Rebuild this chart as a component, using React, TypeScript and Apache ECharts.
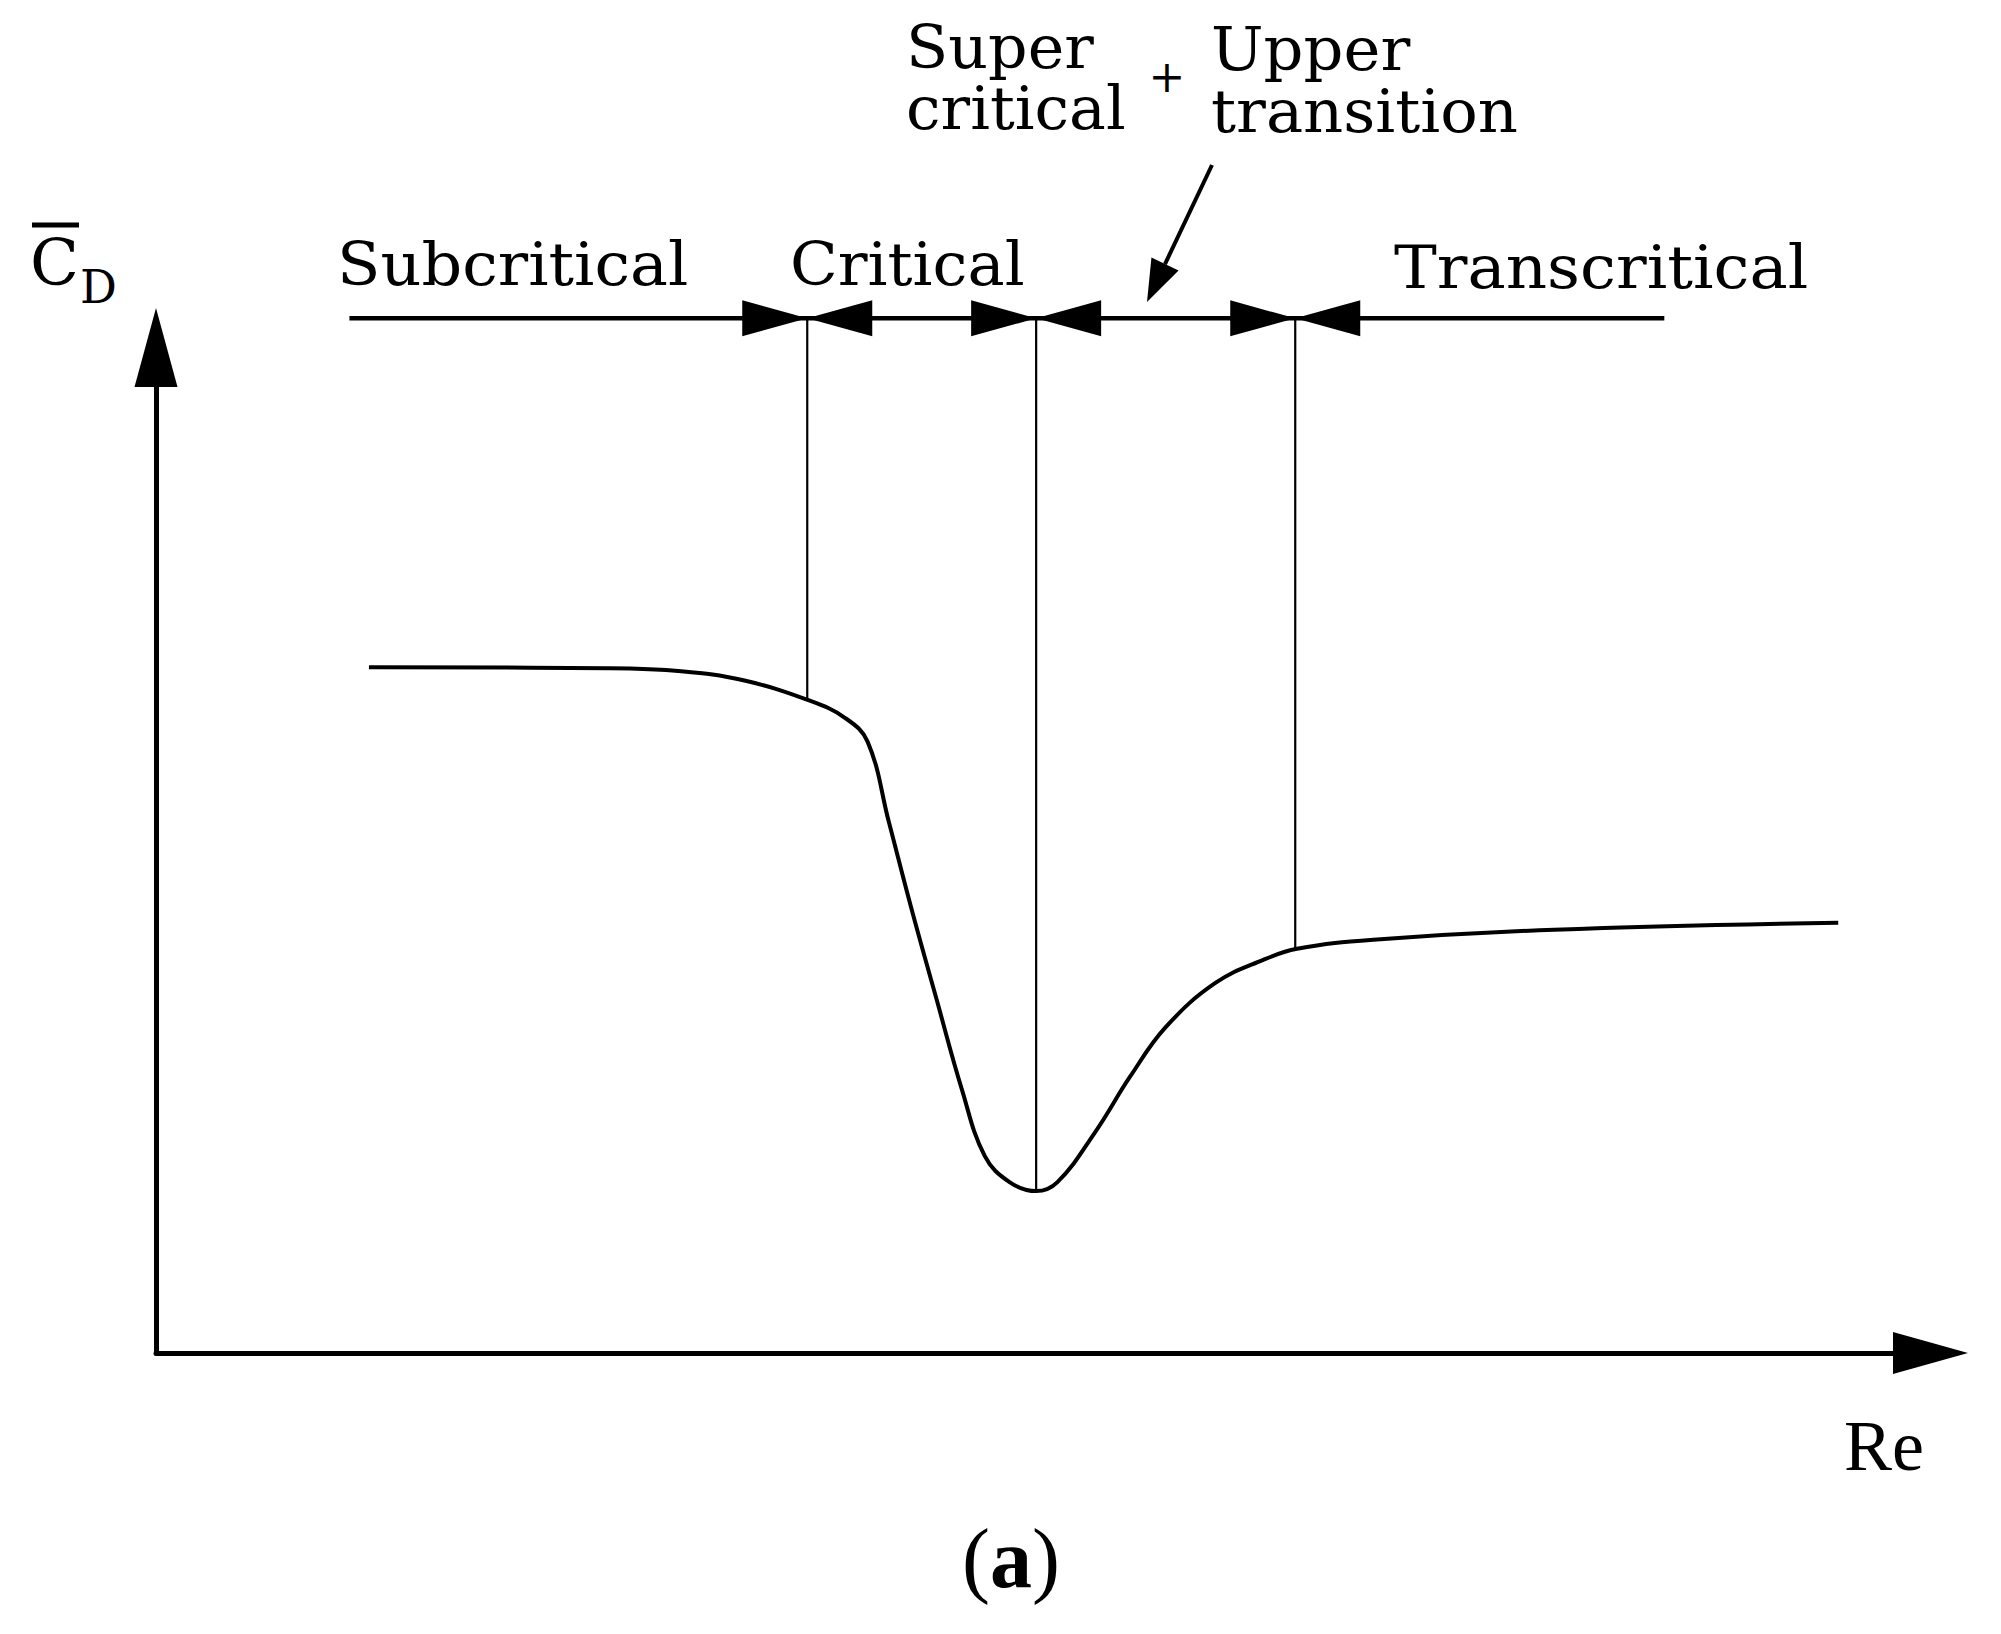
import React, { useEffect, useRef } from "react";
import * as echarts from "echarts";

// Schematic drag curve: arbitrary units (Re along x, mean C_D along y)
const curveRe = [12.0, 25.5, 29.6, 33.1, 36.8, 38.8, 40.1, 41.3, 42.6, 44.0, 45.4, 46.7, 48.1, 49.6, 50.8, 52.9, 54.9, 56.9, 59.7, 62.4, 64.3, 68.6, 78.8, 94.8];
const curveCd = [68.2, 68.1, 67.8, 66.9, 64.9, 63.2, 60.8, 52.8, 44.0, 35.1, 26.3, 19.6, 17.0, 16.1, 17.0, 21.9, 27.5, 32.4, 36.8, 39.1, 40.2, 41.1, 42.1, 42.8];

// Regime boundaries (Re) and the curve value at each boundary
const boundaryRe = [36.7, 49.6, 64.2];
const boundaryCd = [64.9, 16.1, 40.2];

// Horizontal regime line
const regimeLevel = 102.9;
const regimeStart = 10.9;
const regimeEnd = 85.0;

const regimeLabels = ["Subcritical", "Critical", "Transcritical"];
const upperLabelLeft = ["Super", "critical"];
const upperLabelRight = ["Upper", "transition"];

const SERIF = "DejaVu Serif";
const TIMES = "Liberation Serif";

export default function App() {
  const ref = useRef<HTMLDivElement>(null);

  useEffect(() => {
    if (!ref.current) return;
    const chart = echarts.init(ref.current, null, { renderer: "svg" });

    const curveData = curveRe.map((x, i) => [x, curveCd[i]]);
    const boundaryData = boundaryRe.map((x, i) => [x, regimeLevel, boundaryCd[i]]);

    const txt = (
      text: string,
      x: number,
      baseline: number,
      size: number,
      family = SERIF,
      align = "left",
      sx = 1
    ) => ({
      type: "text",
      x,
      y: baseline - 0.345 * size,
      scaleX: sx,
      silent: true,
      style: {
        text,
        fill: "#000",
        fontFamily: family,
        fontSize: size,
        textAlign: align,
        textVerticalAlign: "middle",
      },
    });

    // two-line label as one text block (top-aligned)
    const txt2 = (lines: string[], x: number, top: number, size: number, lh: number, sx = 1) => ({
      type: "text",
      x,
      y: top,
      scaleX: sx,
      silent: true,
      style: {
        text: lines.join("\n"),
        fill: "#000",
        fontFamily: SERIF,
        fontSize: size,
        lineHeight: lh,
        textAlign: "left",
        textVerticalAlign: "top",
      },
    });

    // arrow annotation geometry (pixels)
    const a0 = [1212, 165];
    const tip = [1147, 302];
    const dx = tip[0] - a0[0];
    const dy = tip[1] - a0[1];
    const len = Math.sqrt(dx * dx + dy * dy);
    const ux = dx / len;
    const uy = dy / len;
    const headL = 42;
    const headW = 15;
    const bx = tip[0] - headL * ux;
    const by = tip[1] - headL * uy;

    const option: any = {
      animation: false,
      backgroundColor: "#ffffff",
      grid: {
        left: 156,
        right: 70.5,
        top: 347.5,
        bottom: 281,
        containLabel: false,
        outerBoundsMode: "none",
      },
      xAxis: {
        type: "value",
        min: 0,
        max: 100,
        axisLine: {
          show: true,
          onZero: false,
          symbol: ["none", "triangle"],
          symbolSize: [42, 75],
          lineStyle: { color: "#000", width: 5 },
        },
        axisTick: { show: false },
        axisLabel: { show: false },
        splitLine: { show: false },
      },
      yAxis: {
        type: "value",
        min: 0,
        max: 100,
        axisLine: {
          show: true,
          onZero: false,
          symbol: ["none", "triangle"],
          symbolSize: [43, 79],
          lineStyle: { color: "#000", width: 5 },
        },
        axisTick: { show: false },
        axisLabel: { show: false },
        splitLine: { show: false },
      },
      series: [
        {
          type: "line",
          name: "CD",
          data: curveData,
          smooth: 0.4,
          showSymbol: false,
          symbol: "none",
          clip: false,
          lineStyle: { color: "#000", width: 4 },
          z: 3,
        },
        {
          type: "line",
          name: "regimes",
          data: [
            [regimeStart, regimeLevel],
            [regimeEnd, regimeLevel],
          ],
          showSymbol: false,
          symbol: "none",
          clip: false,
          lineStyle: { color: "#000", width: 4.5 },
          z: 3,
        },
        {
          type: "custom",
          name: "boundaries",
          data: boundaryData,
          clip: false,
          z: 4,
          renderItem: (params: any, api: any) => {
            const x = api.value(0);
            const p = api.coord([x, api.value(1)]);
            const q = api.coord([x, api.value(2)]);
            const L = 65;
            const H = 18;
            return {
              type: "group",
              children: [
                {
                  type: "polygon",
                  shape: { points: [[p[0] - L, p[1] - H], [p[0], p[1]], [p[0] - L, p[1] + H]] },
                  style: { fill: "#000" },
                },
                {
                  type: "polygon",
                  shape: { points: [[p[0] + L, p[1] - H], [p[0], p[1]], [p[0] + L, p[1] + H]] },
                  style: { fill: "#000" },
                },
                {
                  type: "line",
                  shape: { x1: p[0], y1: p[1], x2: q[0], y2: q[1] },
                  style: { stroke: "#000", lineWidth: 2.2 },
                },
              ],
            };
          },
        },
      ],
      graphic: [
        txt(regimeLabels[0], 337, 285, 60, SERIF, "left", 1.06),
        txt(regimeLabels[1], 790, 285, 60, SERIF, "left", 1.04),
        txt(regimeLabels[2], 1394, 288, 60, SERIF, "left", 1.07),
        txt2(upperLabelLeft, 906, 16, 60, 61, 1.03),
        txt2(upperLabelRight, 1211, 18, 60, 62, 1.04),
        txt("+", 1167, 92, 44, SERIF, "center"),
        // C-bar with subscript D
        txt("C", 30, 285, 64),
        txt("D", 80, 303, 46),
        {
          type: "line",
          silent: true,
          shape: { x1: 32, y1: 225, x2: 79, y2: 225 },
          style: { stroke: "#000", lineWidth: 5 },
        },
        txt("Re", 1844, 1471, 72, TIMES),
        {
          type: "text",
          x: 1011,
          y: 1587 - 0.34 * 84,
          silent: true,
          style: {
            text: "{n|(}{b|a}{n|)}",
            textAlign: "center",
            textVerticalAlign: "middle",
            rich: {
              n: { fontFamily: TIMES, fontSize: 84, fill: "#000" },
              b: { fontFamily: TIMES, fontSize: 84, fontWeight: "bold", fill: "#000" },
            },
          },
        },
        // annotation arrow pointing to the upper transition regime
        {
          type: "line",
          silent: true,
          shape: { x1: a0[0], y1: a0[1], x2: bx, y2: by },
          style: { stroke: "#000", lineWidth: 4 },
        },
        {
          type: "polygon",
          silent: true,
          shape: {
            points: [
              [tip[0], tip[1]],
              [bx - uy * headW, by + ux * headW],
              [bx + uy * headW, by - ux * headW],
            ],
          },
          style: { fill: "#000" },
        },
      ],
    };

    chart.setOption(option);
    return () => chart.dispose();
  }, []);

  return (
    <div
      ref={ref}
      style={{ position: "absolute", left: 0, top: 0, width: 2001, height: 1634, background: "#fff" }}
    />
  );
}
